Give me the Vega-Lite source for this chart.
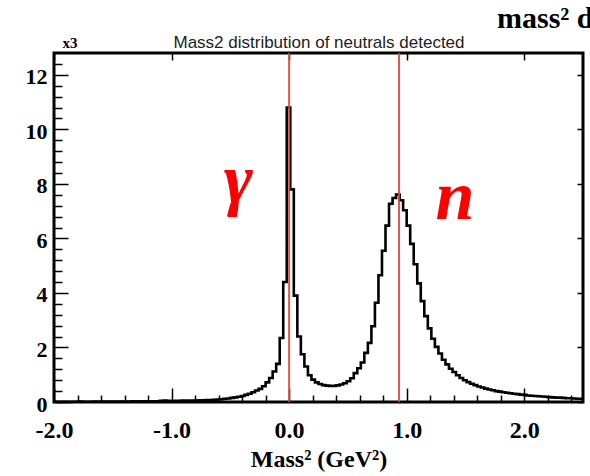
{
  "$schema": "https://vega.github.io/schema/vega-lite/v6.json",
  "width": 529,
  "height": 349,
  "autosize": {"type": "none"},
  "padding": {"left": 54, "top": 53, "right": 7, "bottom": 74},
  "background": "white",
  "title": {"text": "mass² d", "anchor": "start", "frame": "group", "dx": 443, "font": "Liberation Serif", "fontWeight": "bold", "fontSize": 30, "color": "black", "baseline": "alphabetic", "offset": -25},
  "datasets": {
    "hist": [
      {"m2": -2.00, "entries": 0.01}, {"m2": -1.97, "entries": 0.00}, {"m2": -1.94, "entries": 0.01}, {"m2": -1.91, "entries": 0.01}, {"m2": -1.88, "entries": 0.00},
      {"m2": -1.85, "entries": 0.01}, {"m2": -1.82, "entries": 0.01}, {"m2": -1.79, "entries": 0.02}, {"m2": -1.76, "entries": 0.01}, {"m2": -1.73, "entries": 0.01},
      {"m2": -1.70, "entries": 0.01}, {"m2": -1.67, "entries": 0.02}, {"m2": -1.64, "entries": 0.01}, {"m2": -1.61, "entries": 0.02}, {"m2": -1.58, "entries": 0.02},
      {"m2": -1.55, "entries": 0.01}, {"m2": -1.52, "entries": 0.02}, {"m2": -1.49, "entries": 0.02}, {"m2": -1.46, "entries": 0.02}, {"m2": -1.43, "entries": 0.02},
      {"m2": -1.40, "entries": 0.02}, {"m2": -1.37, "entries": 0.02}, {"m2": -1.34, "entries": 0.03}, {"m2": -1.31, "entries": 0.02}, {"m2": -1.28, "entries": 0.03},
      {"m2": -1.25, "entries": 0.03}, {"m2": -1.22, "entries": 0.03}, {"m2": -1.19, "entries": 0.02}, {"m2": -1.16, "entries": 0.03}, {"m2": -1.13, "entries": 0.03},
      {"m2": -1.10, "entries": 0.04}, {"m2": -1.07, "entries": 0.05}, {"m2": -1.04, "entries": 0.04}, {"m2": -1.01, "entries": 0.04}, {"m2": -0.98, "entries": 0.04},
      {"m2": -0.95, "entries": 0.04}, {"m2": -0.92, "entries": 0.05}, {"m2": -0.89, "entries": 0.05}, {"m2": -0.86, "entries": 0.05}, {"m2": -0.83, "entries": 0.05},
      {"m2": -0.80, "entries": 0.05}, {"m2": -0.77, "entries": 0.06}, {"m2": -0.74, "entries": 0.06}, {"m2": -0.71, "entries": 0.07}, {"m2": -0.68, "entries": 0.07},
      {"m2": -0.65, "entries": 0.08}, {"m2": -0.62, "entries": 0.09}, {"m2": -0.59, "entries": 0.10}, {"m2": -0.56, "entries": 0.12}, {"m2": -0.53, "entries": 0.13},
      {"m2": -0.50, "entries": 0.15}, {"m2": -0.47, "entries": 0.17}, {"m2": -0.44, "entries": 0.19}, {"m2": -0.41, "entries": 0.22}, {"m2": -0.38, "entries": 0.26},
      {"m2": -0.35, "entries": 0.30}, {"m2": -0.32, "entries": 0.36}, {"m2": -0.29, "entries": 0.42}, {"m2": -0.26, "entries": 0.48}, {"m2": -0.23, "entries": 0.58},
      {"m2": -0.20, "entries": 0.72}, {"m2": -0.17, "entries": 0.88}, {"m2": -0.14, "entries": 1.12}, {"m2": -0.11, "entries": 1.40}, {"m2": -0.08, "entries": 2.35},
      {"m2": -0.05, "entries": 4.40}, {"m2": -0.02, "entries": 10.80}, {"m2": 0.01, "entries": 7.80}, {"m2": 0.04, "entries": 3.90}, {"m2": 0.07, "entries": 2.40},
      {"m2": 0.10, "entries": 1.75}, {"m2": 0.13, "entries": 1.30}, {"m2": 0.16, "entries": 0.98}, {"m2": 0.19, "entries": 0.82}, {"m2": 0.22, "entries": 0.72},
      {"m2": 0.25, "entries": 0.66}, {"m2": 0.28, "entries": 0.62}, {"m2": 0.31, "entries": 0.60}, {"m2": 0.34, "entries": 0.59}, {"m2": 0.37, "entries": 0.59},
      {"m2": 0.40, "entries": 0.61}, {"m2": 0.43, "entries": 0.64}, {"m2": 0.46, "entries": 0.69}, {"m2": 0.49, "entries": 0.76}, {"m2": 0.52, "entries": 0.87},
      {"m2": 0.55, "entries": 1.06}, {"m2": 0.58, "entries": 1.24}, {"m2": 0.61, "entries": 1.45}, {"m2": 0.64, "entries": 1.80}, {"m2": 0.67, "entries": 2.17},
      {"m2": 0.70, "entries": 2.78}, {"m2": 0.73, "entries": 3.64}, {"m2": 0.76, "entries": 4.65}, {"m2": 0.79, "entries": 5.55}, {"m2": 0.82, "entries": 6.47},
      {"m2": 0.85, "entries": 7.27}, {"m2": 0.88, "entries": 7.48}, {"m2": 0.91, "entries": 7.61}, {"m2": 0.94, "entries": 7.40}, {"m2": 0.97, "entries": 7.03},
      {"m2": 1.00, "entries": 6.47}, {"m2": 1.03, "entries": 5.80}, {"m2": 1.06, "entries": 5.05}, {"m2": 1.09, "entries": 4.35}, {"m2": 1.12, "entries": 3.70},
      {"m2": 1.15, "entries": 3.15}, {"m2": 1.18, "entries": 2.70}, {"m2": 1.21, "entries": 2.32}, {"m2": 1.24, "entries": 2.02}, {"m2": 1.27, "entries": 1.78},
      {"m2": 1.30, "entries": 1.55}, {"m2": 1.33, "entries": 1.38}, {"m2": 1.36, "entries": 1.22}, {"m2": 1.39, "entries": 1.10}, {"m2": 1.42, "entries": 0.98},
      {"m2": 1.45, "entries": 0.88}, {"m2": 1.48, "entries": 0.80}, {"m2": 1.51, "entries": 0.73}, {"m2": 1.54, "entries": 0.67}, {"m2": 1.57, "entries": 0.62},
      {"m2": 1.60, "entries": 0.57}, {"m2": 1.63, "entries": 0.53}, {"m2": 1.66, "entries": 0.49}, {"m2": 1.69, "entries": 0.46}, {"m2": 1.72, "entries": 0.43},
      {"m2": 1.75, "entries": 0.40}, {"m2": 1.78, "entries": 0.38}, {"m2": 1.81, "entries": 0.36}, {"m2": 1.84, "entries": 0.34}, {"m2": 1.87, "entries": 0.32},
      {"m2": 1.90, "entries": 0.30}, {"m2": 1.93, "entries": 0.29}, {"m2": 1.96, "entries": 0.27}, {"m2": 1.99, "entries": 0.26}, {"m2": 2.02, "entries": 0.24},
      {"m2": 2.05, "entries": 0.23}, {"m2": 2.08, "entries": 0.22}, {"m2": 2.11, "entries": 0.21}, {"m2": 2.14, "entries": 0.20}, {"m2": 2.17, "entries": 0.19},
      {"m2": 2.20, "entries": 0.18}, {"m2": 2.23, "entries": 0.17}, {"m2": 2.26, "entries": 0.16}, {"m2": 2.29, "entries": 0.16}, {"m2": 2.32, "entries": 0.15},
      {"m2": 2.35, "entries": 0.14}, {"m2": 2.38, "entries": 0.14}, {"m2": 2.41, "entries": 0.13}, {"m2": 2.44, "entries": 0.12}, {"m2": 2.47, "entries": 0.12},
      {"m2": 2.50, "entries": 0.12}
    ],
    "peaks": [
      {"particle": "γ", "m2": 0.0},
      {"particle": "n", "m2": 0.935}
    ]
  },
  "resolve": {"axis": {"x": "independent", "y": "independent"}},
  "layer": [
    {
      "data": {"name": "hist"},
      "mark": {"type": "line", "interpolate": "step-after", "color": "black", "strokeWidth": 2.6},
      "encoding": {
        "x": {"field": "m2", "type": "quantitative", "scale": {"domain": [-2, 2.5], "nice": false, "zero": false},
          "axis": {"orient": "bottom", "values": [-2, -1, 0, 1, 2], "labelExpr": "datum.value < 0 ? '-' + format(-datum.value, '.1f') : format(datum.value, '.1f')", "tickSize": -14, "labelPadding": 49, "labelBaseline": "alphabetic", "labelFont": "Liberation Serif", "labelFontWeight": "bold", "labelFontSize": 24, "labelFlush": false, "labelOverlap": false, "labelBound": false,
            "title": "Mass² (GeV²)", "titleFont": "Liberation Serif", "titleFontWeight": "bold", "titleFontSize": 24, "titleY": 64, "titleBaseline": "alphabetic", "titleAnchor": "middle"}},
        "y": {"field": "entries", "type": "quantitative", "scale": {"domain": [0, 12.8], "nice": false, "zero": true},
          "axis": {"orient": "left", "values": [0, 2, 4, 6, 8, 10, 12], "format": "d", "tickSize": -14, "labelPadding": 21, "labelBaseline": "middle", "labelFont": "Liberation Serif", "labelFontWeight": "bold", "labelFontSize": 22, "labelFlush": false, "labelOverlap": false, "labelOffset": 2,
            "title": "x3", "titleAngle": 0, "titleX": 8, "titleY": -6, "titleAlign": "left", "titleBaseline": "alphabetic", "titleFont": "Liberation Serif", "titleFontWeight": "bold", "titleFontSize": 15}}
      }
    },
    {
      "data": {"name": "peaks"},
      "mark": {"type": "rule", "color": "#e0453a", "strokeWidth": 2, "opacity": 0.9},
      "encoding": {
        "x": {"field": "m2", "type": "quantitative", "scale": {"domain": [-2, 2.5], "nice": false, "zero": false},
          "axis": {"orient": "bottom", "values": [-1.8, -1.6, -1.4, -1.2, -0.8, -0.6, -0.4, -0.2, 0.2, 0.4, 0.6, 0.8, 1.2, 1.4, 1.6, 1.8, 2.2, 2.4], "tickSize": -7, "labels": false, "title": null}}
      }
    },
    {
      "data": {"values": [{}]},
      "mark": {"type": "text", "text": "γ", "color": "#ff0000", "font": "Liberation Serif", "fontWeight": "bold", "fontStyle": "italic", "fontSize": 70, "baseline": "alphabetic", "align": "center"},
      "encoding": {
        "x": {"datum": -0.433, "type": "quantitative", "scale": {"domain": [-2, 2.5], "nice": false, "zero": false},
          "axis": {"orient": "top", "values": [-2, -1, 0, 1, 2], "tickSize": -7, "labels": false,
            "title": "Mass2 distribution of neutrals detected", "titleFont": "Liberation Sans", "titleFontWeight": "normal", "titleFontSize": 17, "titleY": -6, "titleBaseline": "alphabetic", "titleAnchor": "middle", "titleColor": "#222222"}},
        "y": {"datum": 7.35, "type": "quantitative", "scale": {"domain": [0, 12.8], "nice": false, "zero": true},
          "axis": {"orient": "left", "values": [0.4, 0.8, 1.2, 1.6, 2.4, 2.8, 3.2, 3.6, 4.4, 4.8, 5.2, 5.6, 6.4, 6.8, 7.2, 7.6, 8.4, 8.8, 9.2, 9.6, 10.4, 10.8, 11.2, 11.6, 12.4], "tickSize": -8, "labels": false, "title": null}}
      }
    },
    {
      "data": {"values": [{}]},
      "mark": {"type": "text", "text": "n", "color": "#ff0000", "font": "Liberation Serif", "fontWeight": "bold", "fontStyle": "italic", "fontSize": 70, "baseline": "alphabetic", "align": "center"},
      "encoding": {
        "x": {"datum": 1.41, "type": "quantitative", "scale": {"domain": [-2, 2.5], "nice": false, "zero": false}, "axis": null},
        "y": {"datum": 6.72, "type": "quantitative", "scale": {"domain": [0, 12.8], "nice": false, "zero": true},
          "axis": {"orient": "right", "values": [0, 2, 4, 6, 8, 10, 12], "tickSize": -6, "labels": false, "title": null}}
      }
    }
  ],
  "config": {
    "axis": {"grid": false, "domain": false, "tickColor": "black", "tickWidth": 1.5, "labelColor": "black", "titleColor": "black"},
    "view": {"stroke": "black", "strokeWidth": 3}
  }
}
